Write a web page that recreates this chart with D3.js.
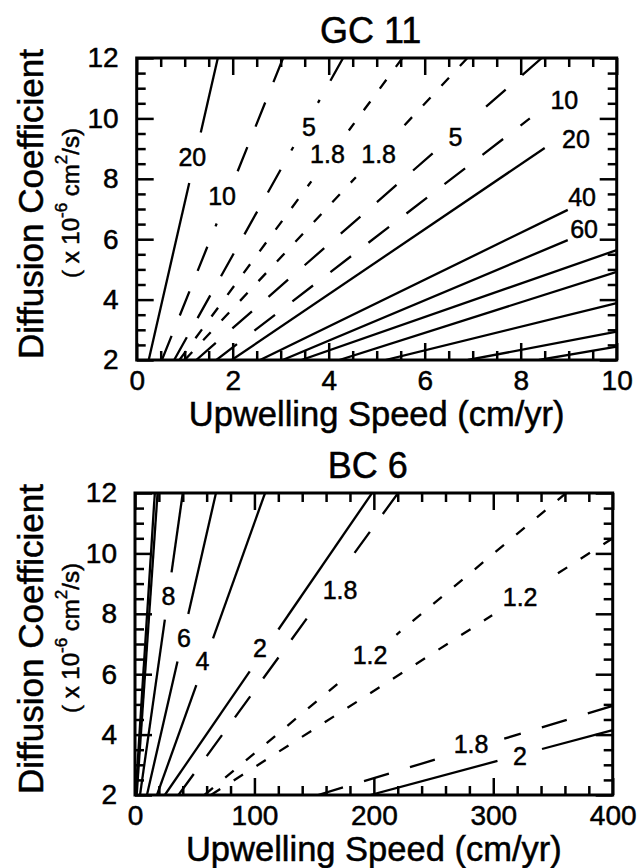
<!DOCTYPE html>
<html>
<head>
<meta charset="utf-8">
<script src="https://cdn.jsdelivr.net/npm/d3@7/dist/d3.min.js"></script>
<style>
  body { margin: 0; background: #fff; }
  svg { display: block; }
  text { font-family: "Liberation Sans", Arial, Helvetica, sans-serif; fill: #000; stroke: #000; stroke-width: 0.5px; white-space: pre; }
</style>
</head>
<body>
<svg id="chart" width="638" height="868"></svg>
<script>
// tick values
const gcXTicks = [0, 2, 4, 6, 8, 10];
const bcXTicks = [0, 100, 200, 300, 400];
const yTicks = [2, 4, 6, 8, 10, 12];

// GC 11 contours : label, start [speed, K], end [speed, K], label position (null = no label)
const gcValues = ["20", "10", "5", "1.8", "1.8", "5", "10", "20", "40", "60", "", "", "", "", ""];
const gcFrom = [[0.25, 2], [0.525, 2], [0.78, 2], [0.89, 2], [1.0, 2], [1.24, 2], [1.66, 2], [1.98, 2],
                [2.57, 2], [3.04, 2], [3.43, 2], [4.22, 2], [5.18, 2], [6.9, 2], [8.38, 2]];
const gcTo = [[1.69, 12], [3.05, 12], [4.3, 12], [5.535, 12], [6.89, 12], [8.44, 12], [8.19, 10.0], [8.5, 9.02],
              [8.98, 6.97], [8.98, 5.97], [10, 5.64], [10, 4.92], [10, 3.88], [10, 2.94], [10, 2.44]];
const gcLabelAt = [[1.16, 8.72], [1.78, 7.43], [3.59, 9.72], [3.975, 8.82], [5.04, 8.82], [6.64, 9.37],
                   [8.91, 10.61], [9.15, 9.32], [9.28, 7.4], [9.32, 6.34], null, null, null, null, null];

// BC 6 contours
const bcValues = ["", "", "8", "6", "4", "2", "1.8", "1.2", "1.2", "1.8", "2"];
const bcFrom = [[0.5, 2], [1.4, 2], [4.2, 2], [10, 2], [18.4, 2], [25, 2], [36.4, 2], [58.2, 2], [63.6, 2], [153.3, 2], [197, 2]];
const bcTo = [[16.6, 12], [18.9, 12], [40, 12], [67.8, 12], [108.9, 12], [198.5, 12], [220.3, 12], [361, 12],
              [400, 10.5], [400, 4.95], [400, 4.15]];
const bcLabelAt = [null, null, [28, 8.59], [41, 7.2], [56.5, 6.44], [104.7, 6.88], [171.7, 8.79], [196.8, 6.64],
                   [322.5, 8.56], [281.4, 3.69], [322.4, 3.29]];

const svg = d3.select("#chart");
const LONG = "26,22", SHORT = "11,16";

function drawPanel(cfg) {
    const x = d3.scaleLinear().domain(cfg.xDomain).range([cfg.left, cfg.right]);
    const y = d3.scaleLinear().domain([2, 12]).range([cfg.bottom, cfg.top]);
    const cx = (cfg.left + cfg.right) / 2, cy = (cfg.top + cfg.bottom) / 2;

    svg.append("clipPath").attr("id", cfg.id + "-clip")
        .append("rect")
        .attr("x", cfg.left).attr("y", cfg.top)
        .attr("width", cfg.right - cfg.left).attr("height", cfg.bottom - cfg.top);

    const lines = svg.append("g").attr("clip-path", `url(#${cfg.id}-clip)`);
    const labels = svg.append("g");

    cfg.values.forEach((v, i) => {
        const p0 = [x(cfg.from[i][0]), y(cfg.from[i][1])];
        const p1 = [x(cfg.to[i][0]), y(cfg.to[i][1])];
        let pieces = [[p0, p1]];
        const lab = cfg.labelAt[i];
        if (lab) {
            const c = [x(lab[0]), y(lab[1])];
            const t = labels.append("text")
                .attr("x", c[0]).attr("y", c[1] + 9)
                .attr("text-anchor", "middle")
                .attr("font-size", 25)
                .text(v);
            const dx = p1[0] - p0[0], dy = p1[1] - p0[1], len = Math.hypot(dx, dy);
            const s = ((c[0] - p0[0]) * dx + (c[1] - p0[1]) * dy) / (len * len);
            if (s > 0 && s < 1) {
                // open a gap in the line around the label
                const w = t.node().getComputedTextLength(), h = 18;
                const gap = (w * Math.abs(dx / len) + h * Math.abs(dy / len)) / 2 + 14;
                const at = k => [p0[0] + k * dx, p0[1] + k * dy];
                pieces = [[p0, at(s - gap / len)], [p1, at(s + gap / len)]];
            }
        }
        const dash = cfg.dash(v);
        pieces.forEach(pc => {
            lines.append("path")
                .attr("d", d3.line()(pc))
                .attr("fill", "none")
                .attr("stroke", "#000")
                .attr("stroke-width", 2.3)
                .attr("stroke-dasharray", dash);
        });
    });

    // ticks on all four sides, pointing inwards
    const xMinor = d3.range(cfg.xDomain[0], cfg.xDomain[1] + 1e-9, cfg.xMinor).filter(d => !cfg.xTicks.includes(d));
    const yMinor = d3.range(2, 12.001, 0.5).filter(d => !yTicks.includes(d));

    function styleAxis(g) {
        g.select(".domain").remove();
        g.selectAll("line").attr("stroke", "#000").attr("stroke-width", 2.5);
        g.attr("font-size", 28).attr("font-family", '"Liberation Sans", Arial, sans-serif');
    }

    svg.append("g").attr("transform", `translate(0,${cfg.bottom})`)
        .call(d3.axisBottom(x).tickValues(cfg.xTicks).tickSize(-17).tickPadding(10).tickFormat(d3.format("d")))
        .call(styleAxis);
    svg.append("g").attr("transform", `translate(0,${cfg.bottom})`)
        .call(d3.axisBottom(x).tickValues(xMinor).tickSize(-9).tickFormat(""))
        .call(styleAxis);
    svg.append("g").attr("transform", `translate(0,${cfg.top})`)
        .call(d3.axisTop(x).tickValues(cfg.xTicks).tickSize(-17).tickFormat(""))
        .call(styleAxis);
    svg.append("g").attr("transform", `translate(0,${cfg.top})`)
        .call(d3.axisTop(x).tickValues(xMinor).tickSize(-9).tickFormat(""))
        .call(styleAxis);
    svg.append("g").attr("transform", `translate(${cfg.left},0)`)
        .call(d3.axisLeft(y).tickValues(yTicks).tickSize(-17).tickPadding(18).tickFormat(d3.format("d")))
        .call(styleAxis);
    svg.append("g").attr("transform", `translate(${cfg.left},0)`)
        .call(d3.axisLeft(y).tickValues(yMinor).tickSize(-9).tickFormat(""))
        .call(styleAxis);
    svg.append("g").attr("transform", `translate(${cfg.right},0)`)
        .call(d3.axisRight(y).tickValues(yTicks).tickSize(-17).tickFormat(""))
        .call(styleAxis);
    svg.append("g").attr("transform", `translate(${cfg.right},0)`)
        .call(d3.axisRight(y).tickValues(yMinor).tickSize(-9).tickFormat(""))
        .call(styleAxis);

    svg.append("rect")
        .attr("x", cfg.left).attr("y", cfg.top)
        .attr("width", cfg.right - cfg.left).attr("height", cfg.bottom - cfg.top)
        .attr("fill", "none").attr("stroke", "#000").attr("stroke-width", 3);

    // titles
    svg.append("text").attr("x", cx - 6).attr("y", cfg.top - 15)
        .attr("text-anchor", "middle").attr("font-size", 36).text(cfg.title);
    svg.append("text").attr("x", cx).attr("y", cfg.bottom + 66)
        .attr("text-anchor", "middle").attr("font-size", 34.5).text("Upwelling Speed (cm/yr)");

    svg.append("text").attr("transform", `translate(43,${cy - 5}) rotate(-90)`)
        .attr("text-anchor", "middle").attr("font-size", 35).text("Diffusion Coefficient");
    const unit = svg.append("text").attr("transform", `translate(79,${cy - 6}) rotate(-90)`)
        .attr("text-anchor", "middle").attr("font-size", 24);
    unit.append("tspan").text("( x 10");
    unit.append("tspan").attr("font-size", 17).attr("dy", -12).text("-6");
    unit.append("tspan").attr("dy", 12).text(" cm");
    unit.append("tspan").attr("font-size", 17).attr("dy", -12).text("2");
    unit.append("tspan").attr("dy", 12).text("/s)");
}

drawPanel({
    id: "gc", title: "GC 11",
    left: 136.7, right: 616.7, top: 58, bottom: 360,
    xDomain: [0, 10], xTicks: gcXTicks, xMinor: 0.5,
    values: gcValues, from: gcFrom, to: gcTo, labelAt: gcLabelAt,
    dash: v => v === "1.8" ? SHORT : (v === "5" || v === "10") ? LONG : null
});

drawPanel({
    id: "bc", title: "BC 6",
    left: 135, right: 612.7, top: 493, bottom: 795,
    xDomain: [0, 400], xTicks: bcXTicks, xMinor: 20,
    values: bcValues, from: bcFrom, to: bcTo, labelAt: bcLabelAt,
    dash: v => v === "1.2" ? SHORT : v === "1.8" ? LONG : null
});
</script>
</body>
</html>
